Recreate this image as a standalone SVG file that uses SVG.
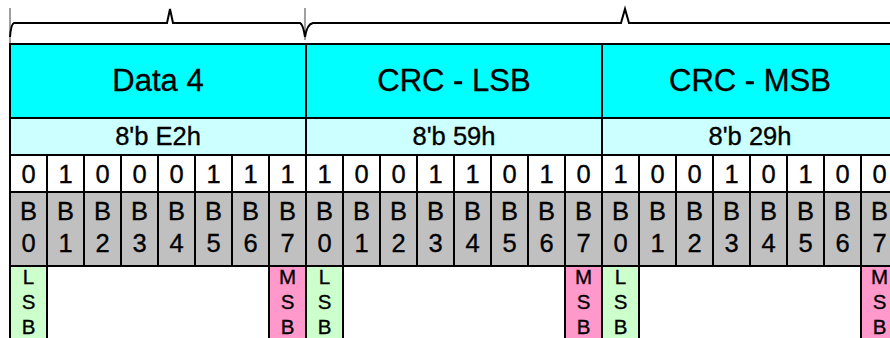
<svg xmlns="http://www.w3.org/2000/svg" width="890" height="338" viewBox="0 0 890 338">
<style>
text{font-family:"Liberation Sans",Arial,sans-serif;fill:#000;stroke:#000;stroke-width:0.35;text-anchor:middle}
.big{font-size:31px}
.mid{font-size:25.5px}
.sm{font-size:20.5px}
.c{stroke:#000;stroke-width:2}
.name{fill:#00FFFF}
.hex{fill:#CCFFFF}
.bit{fill:#FFFFFF}
.bn{fill:#C0C0C0}
.lsb{fill:#CCFFCC}
.msb{fill:#FF99CC}
.brace{fill:none;stroke:#000;stroke-width:2}
.tick{stroke:#A0A0A0;stroke-width:2}
</style>
<rect width="890" height="338" fill="#fff"/>
<g id="connectors">
<line class="tick" x1="10" y1="8" x2="10" y2="44"/>
<line class="tick" x1="305" y1="8" x2="305" y2="40"/>
<path class="brace" d="M10,37 Q11,24 14,23 L167,23 L170,9 L173,23 L300,23 Q303,24 305,37"/>
<path class="brace" d="M305,37 Q307,24 313,23 L621,23 L625,9 L629,23 L892,23"/>
</g>
<g id="byte-data4">
<rect class="c name" x="10" y="44" width="296" height="74"/>
<text class="big" x="158" y="90.5">Data 4</text>
<rect class="c hex" x="10" y="118" width="296" height="37"/>
<text class="mid" x="158" y="145">8'b E2h</text>
<g id="d4-bits">
<rect class="c bit" x="10" y="155" width="37" height="37"/><text class="mid" x="28.5" y="183">0</text>
<rect class="c bit" x="47" y="155" width="37" height="37"/><text class="mid" x="65.5" y="183">1</text>
<rect class="c bit" x="84" y="155" width="37" height="37"/><text class="mid" x="102.5" y="183">0</text>
<rect class="c bit" x="121" y="155" width="37" height="37"/><text class="mid" x="139.5" y="183">0</text>
<rect class="c bit" x="158" y="155" width="37" height="37"/><text class="mid" x="176.5" y="183">0</text>
<rect class="c bit" x="195" y="155" width="37" height="37"/><text class="mid" x="213.5" y="183">1</text>
<rect class="c bit" x="232" y="155" width="37" height="37"/><text class="mid" x="250.5" y="183">1</text>
<rect class="c bit" x="269" y="155" width="37" height="37"/><text class="mid" x="287.5" y="183">1</text>
</g>
<g id="d4-bitnames">
<rect class="c bn" x="10" y="192" width="37" height="74"/><text class="mid" x="28.5" y="220">B</text><text class="mid" x="28.5" y="252">0</text>
<rect class="c bn" x="47" y="192" width="37" height="74"/><text class="mid" x="65.5" y="220">B</text><text class="mid" x="65.5" y="252">1</text>
<rect class="c bn" x="84" y="192" width="37" height="74"/><text class="mid" x="102.5" y="220">B</text><text class="mid" x="102.5" y="252">2</text>
<rect class="c bn" x="121" y="192" width="37" height="74"/><text class="mid" x="139.5" y="220">B</text><text class="mid" x="139.5" y="252">3</text>
<rect class="c bn" x="158" y="192" width="37" height="74"/><text class="mid" x="176.5" y="220">B</text><text class="mid" x="176.5" y="252">4</text>
<rect class="c bn" x="195" y="192" width="37" height="74"/><text class="mid" x="213.5" y="220">B</text><text class="mid" x="213.5" y="252">5</text>
<rect class="c bn" x="232" y="192" width="37" height="74"/><text class="mid" x="250.5" y="220">B</text><text class="mid" x="250.5" y="252">6</text>
<rect class="c bn" x="269" y="192" width="37" height="74"/><text class="mid" x="287.5" y="220">B</text><text class="mid" x="287.5" y="252">7</text>
</g>
<rect class="c lsb" x="10" y="266" width="37" height="80"/>
<text class="sm" x="28.5" y="284">L</text><text class="sm" x="28.5" y="309">S</text><text class="sm" x="28.5" y="334">B</text>
<rect class="c msb" x="269" y="266" width="37" height="80"/>
<text class="sm" x="287.5" y="284">M</text><text class="sm" x="287.5" y="309">S</text><text class="sm" x="287.5" y="334">B</text>
</g>
<g id="byte-crc-lsb">
<rect class="c name" x="306" y="44" width="296" height="74"/>
<text class="big" x="454" y="90.5">CRC - LSB</text>
<rect class="c hex" x="306" y="118" width="296" height="37"/>
<text class="mid" x="454" y="145">8'b 59h</text>
<g id="crcl-bits">
<rect class="c bit" x="306" y="155" width="37" height="37"/><text class="mid" x="324.5" y="183">1</text>
<rect class="c bit" x="343" y="155" width="37" height="37"/><text class="mid" x="361.5" y="183">0</text>
<rect class="c bit" x="380" y="155" width="37" height="37"/><text class="mid" x="398.5" y="183">0</text>
<rect class="c bit" x="417" y="155" width="37" height="37"/><text class="mid" x="435.5" y="183">1</text>
<rect class="c bit" x="454" y="155" width="37" height="37"/><text class="mid" x="472.5" y="183">1</text>
<rect class="c bit" x="491" y="155" width="37" height="37"/><text class="mid" x="509.5" y="183">0</text>
<rect class="c bit" x="528" y="155" width="37" height="37"/><text class="mid" x="546.5" y="183">1</text>
<rect class="c bit" x="565" y="155" width="37" height="37"/><text class="mid" x="583.5" y="183">0</text>
</g>
<g id="crcl-bitnames">
<rect class="c bn" x="306" y="192" width="37" height="74"/><text class="mid" x="324.5" y="220">B</text><text class="mid" x="324.5" y="252">0</text>
<rect class="c bn" x="343" y="192" width="37" height="74"/><text class="mid" x="361.5" y="220">B</text><text class="mid" x="361.5" y="252">1</text>
<rect class="c bn" x="380" y="192" width="37" height="74"/><text class="mid" x="398.5" y="220">B</text><text class="mid" x="398.5" y="252">2</text>
<rect class="c bn" x="417" y="192" width="37" height="74"/><text class="mid" x="435.5" y="220">B</text><text class="mid" x="435.5" y="252">3</text>
<rect class="c bn" x="454" y="192" width="37" height="74"/><text class="mid" x="472.5" y="220">B</text><text class="mid" x="472.5" y="252">4</text>
<rect class="c bn" x="491" y="192" width="37" height="74"/><text class="mid" x="509.5" y="220">B</text><text class="mid" x="509.5" y="252">5</text>
<rect class="c bn" x="528" y="192" width="37" height="74"/><text class="mid" x="546.5" y="220">B</text><text class="mid" x="546.5" y="252">6</text>
<rect class="c bn" x="565" y="192" width="37" height="74"/><text class="mid" x="583.5" y="220">B</text><text class="mid" x="583.5" y="252">7</text>
</g>
<rect class="c lsb" x="306" y="266" width="37" height="80"/>
<text class="sm" x="324.5" y="284">L</text><text class="sm" x="324.5" y="309">S</text><text class="sm" x="324.5" y="334">B</text>
<rect class="c msb" x="565" y="266" width="37" height="80"/>
<text class="sm" x="583.5" y="284">M</text><text class="sm" x="583.5" y="309">S</text><text class="sm" x="583.5" y="334">B</text>
</g>
<g id="byte-crc-msb">
<rect class="c name" x="602" y="44" width="296" height="74"/>
<text class="big" x="750" y="90.5">CRC - MSB</text>
<rect class="c hex" x="602" y="118" width="296" height="37"/>
<text class="mid" x="750" y="145">8'b 29h</text>
<g id="crcm-bits">
<rect class="c bit" x="602" y="155" width="37" height="37"/><text class="mid" x="620.5" y="183">1</text>
<rect class="c bit" x="639" y="155" width="37" height="37"/><text class="mid" x="657.5" y="183">0</text>
<rect class="c bit" x="676" y="155" width="37" height="37"/><text class="mid" x="694.5" y="183">0</text>
<rect class="c bit" x="713" y="155" width="37" height="37"/><text class="mid" x="731.5" y="183">1</text>
<rect class="c bit" x="750" y="155" width="37" height="37"/><text class="mid" x="768.5" y="183">0</text>
<rect class="c bit" x="787" y="155" width="37" height="37"/><text class="mid" x="805.5" y="183">1</text>
<rect class="c bit" x="824" y="155" width="37" height="37"/><text class="mid" x="842.5" y="183">0</text>
<rect class="c bit" x="861" y="155" width="37" height="37"/><text class="mid" x="879.5" y="183">0</text>
</g>
<g id="crcm-bitnames">
<rect class="c bn" x="602" y="192" width="37" height="74"/><text class="mid" x="620.5" y="220">B</text><text class="mid" x="620.5" y="252">0</text>
<rect class="c bn" x="639" y="192" width="37" height="74"/><text class="mid" x="657.5" y="220">B</text><text class="mid" x="657.5" y="252">1</text>
<rect class="c bn" x="676" y="192" width="37" height="74"/><text class="mid" x="694.5" y="220">B</text><text class="mid" x="694.5" y="252">2</text>
<rect class="c bn" x="713" y="192" width="37" height="74"/><text class="mid" x="731.5" y="220">B</text><text class="mid" x="731.5" y="252">3</text>
<rect class="c bn" x="750" y="192" width="37" height="74"/><text class="mid" x="768.5" y="220">B</text><text class="mid" x="768.5" y="252">4</text>
<rect class="c bn" x="787" y="192" width="37" height="74"/><text class="mid" x="805.5" y="220">B</text><text class="mid" x="805.5" y="252">5</text>
<rect class="c bn" x="824" y="192" width="37" height="74"/><text class="mid" x="842.5" y="220">B</text><text class="mid" x="842.5" y="252">6</text>
<rect class="c bn" x="861" y="192" width="37" height="74"/><text class="mid" x="879.5" y="220">B</text><text class="mid" x="879.5" y="252">7</text>
</g>
<rect class="c lsb" x="602" y="266" width="37" height="80"/>
<text class="sm" x="620.5" y="284">L</text><text class="sm" x="620.5" y="309">S</text><text class="sm" x="620.5" y="334">B</text>
<rect class="c msb" x="861" y="266" width="37" height="80"/>
<text class="sm" x="879.5" y="284">M</text><text class="sm" x="879.5" y="309">S</text><text class="sm" x="879.5" y="334">B</text>
</g>
</svg>
